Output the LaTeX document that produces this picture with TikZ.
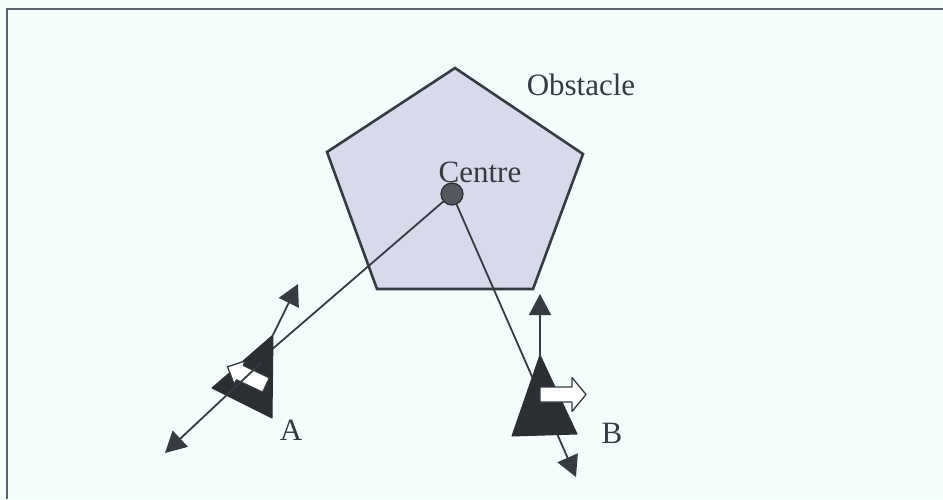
\documentclass[tikz,border=0pt]{standalone}
\usepackage{fontspec}
\setmainfont{Liberation Serif}
\usetikzlibrary{arrows.meta}
\definecolor{bg}{HTML}{F4FCFC}
\definecolor{obsfill}{HTML}{D6DAEA}
\definecolor{ink}{HTML}{363B41}
\definecolor{frm}{HTML}{5A616A}
\definecolor{dark}{HTML}{2B2F33}
\tikzset{
  frameline/.style={draw=frm, line width=2.5pt},
  obstacle/.style={draw=ink, fill=obsfill, line width=2.6pt, line join=miter},
  ray/.style={draw=ink, line width=1.8pt},
  vel/.style={draw=ink, line width=1.8pt, -{Triangle[length=21pt,width=22pt]}},
  robot/.style={fill=dark, draw=dark, line width=1pt, line join=round},
  blockarrow/.style={fill=white, draw=ink, line width=1.3pt, line join=round},
  lbl/.style={text=ink, font=\fontsize{31}{37}\selectfont, inner sep=0pt},
  centredot/.style={circle, fill=ink!85, draw=dark, line width=1.2pt, minimum size=22pt, inner sep=0pt}
}
\begin{document}
\begin{tikzpicture}[x=1pt,y=-1pt]
\fill[bg] (0,0) rectangle (943,499);
\useasboundingbox (0,0) rectangle (943,499);
\draw[frameline] (7,499) -- (7,9) -- (943,9);

% obstacle
\coordinate (p1) at (455,68);
\coordinate (p2) at (583,154);
\coordinate (p3) at (533,289);
\coordinate (p4) at (377,289);
\coordinate (p5) at (327,152);
\path[obstacle] (p1) -- (p2) -- (p3) -- (p4) -- (p5) -- cycle;
\node[lbl] (obs) at (581,85) {Obstacle};
\node[lbl] (ctext) at (480,172) {Centre};

% robot A
\coordinate (a1) at (273,335);
\coordinate (a2) at (272,418);
\coordinate (a3) at (212,388);
\coordinate (aend) at (262,358);
\coordinate (ain) at (262,362);
\coordinate (av1) at (165,453);
\coordinate (av2) at (298,284);

% robot B
\coordinate (b1) at (540,355);
\coordinate (b2) at (577,434);
\coordinate (b3) at (512,436);
\coordinate (bup) at (540,294);
\coordinate (bdown) at (576,477);

\node[centredot] (c) at (452,194) {};

% rays from centre
\draw[ray] (c) -- (aend);
\draw[vel] (c) -- (bdown);

% robot triangles
\path[robot] (a1) -- (a2) -- (a3) -- cycle;
\path[robot] (b1) -- (b2) -- (b3) -- cycle;

% white block arrows
\path[blockarrow] (269.4,377.8) -- (243.2,365.4) -- (245.3,360.9) -- (227.5,366.8)
  -- (234.3,384.4) -- (236.4,379.8) -- (262.6,392.2) -- cycle;
\path[blockarrow] (540,387) -- (572,387) -- (572,377.5) -- (586,394.5)
  -- (572,411.5) -- (572,402) -- (540,402) -- cycle;

% velocity arrows
\draw[vel] (ain) -- (av1);
\draw[vel] (a1) -- (av2);
\draw[vel] (b1) -- (bup);

\node[lbl] (la) at (291,430) {A};
\node[lbl] (lb) at (612,433) {B};
\end{tikzpicture}
\end{document}
